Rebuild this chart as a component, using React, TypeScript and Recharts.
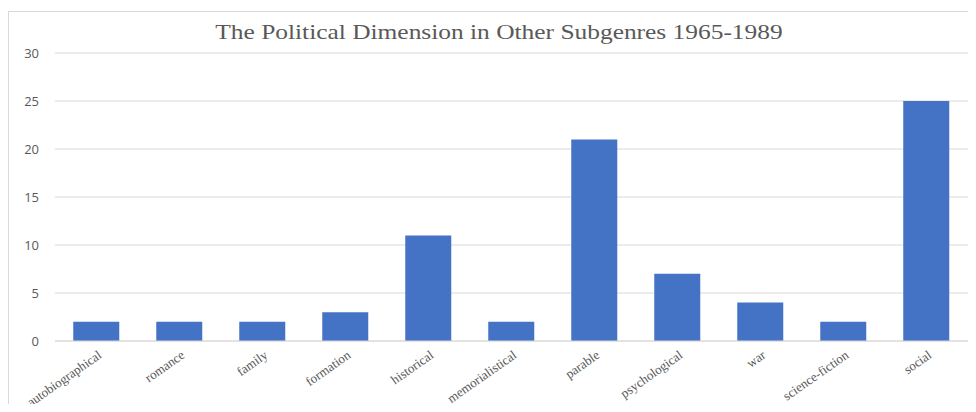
import { BarChart, Bar, XAxis, YAxis, CartesianGrid } from "recharts";

const subgenres = [
  "autobiographical",
  "romance",
  "family",
  "formation",
  "historical",
  "memorialistical",
  "parable",
  "psychological",
  "war",
  "science-fiction",
  "social",
];

const counts = [2, 2, 2, 3, 11, 2, 21, 7, 4, 2, 25];

const yTicks = [0, 5, 10, 15, 20, 25, 30];

const data = subgenres.map((name, i) => ({ name, value: counts[i] }));

const GRID = "#d9d9d9";
const TEXT = "#595959";

const SlantTick = (props: any) => {
  const { x, y, payload } = props;
  return (
    <g transform={`translate(${x + 6},${y + 8})`}>
      <text
        x={0}
        y={0}
        textAnchor="end"
        transform="rotate(-35)"
        fill={TEXT}
        fontSize={13}
        fontFamily="'Liberation Serif', serif"
      >
        {payload.value}
      </text>
    </g>
  );
};

const App = () => {
  return (
    <div
      style={{
        position: "relative",
        width: 976,
        height: 412,
        overflow: "hidden",
        background: "#fff",
        margin: -8,
      }}
    >
      <div
        style={{
          position: "absolute",
          left: 8,
          top: 11,
          width: 1000,
          height: 500,
          border: `1px solid ${GRID}`,
        }}
      />
      <div
        style={{
          position: "absolute",
          left: 0,
          top: 18,
          width: 998,
          textAlign: "center",
          fontFamily: "'Liberation Serif', serif",
          fontSize: 22,
          color: TEXT,
          lineHeight: "28px",
          transform: "scaleX(1.155)",
        }}
      >
        The Political Dimension in Other Subgenres 1965-1989
      </div>
      <div style={{ position: "absolute", left: 0, top: 0 }}>
        <BarChart
          width={976}
          height={412}
          data={data}
          margin={{ top: 53, right: 8, bottom: 0, left: 0 }}
          barCategoryGap="22%"
        >
          <CartesianGrid vertical={false} stroke={GRID} />
          <XAxis
            dataKey="name"
            interval={0}
            tickLine={false}
            axisLine={{ stroke: GRID }}
            tick={<SlantTick />}
            height={71}
          />
          <YAxis
            width={55}
            domain={[0, 30]}
            ticks={yTicks}
            axisLine={false}
            tickLine={false}
            tickSize={0}
            tickMargin={16}
            tick={{ fill: TEXT, fontSize: 13, fontFamily: "'Open Sans', sans-serif" }}
          />
          <Bar dataKey="value" fill="#4472C4" isAnimationActive={false} />
        </BarChart>
      </div>
    </div>
  );
};

export default App;
